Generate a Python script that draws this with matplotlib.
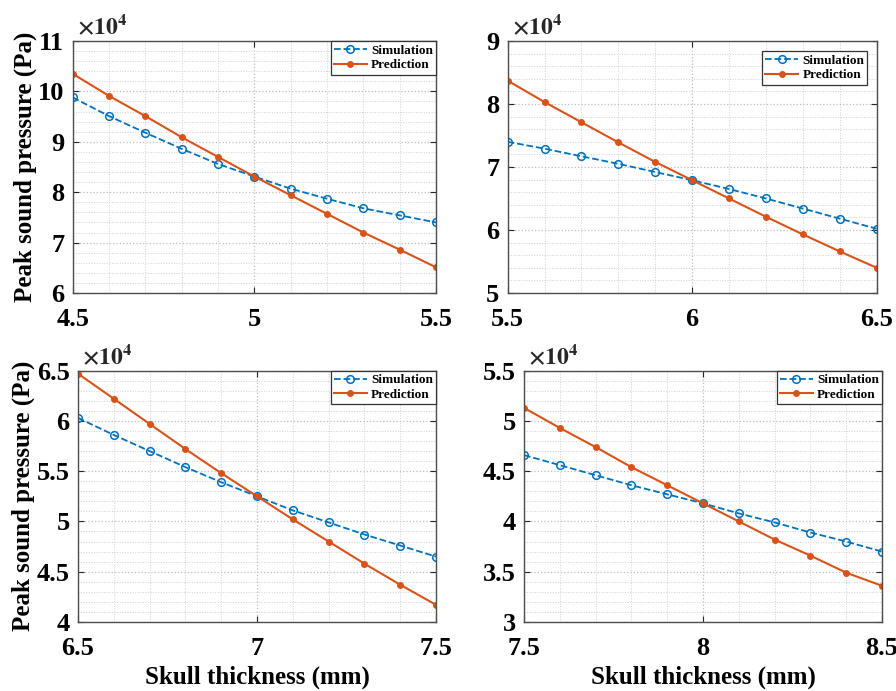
import matplotlib
matplotlib.use('Agg')
import matplotlib.pyplot as plt
from matplotlib.ticker import MultipleLocator, FuncFormatter
import numpy as np

plt.rcParams['font.family'] = 'Liberation Serif'
plt.rcParams['font.weight'] = 'bold'
plt.rcParams['mathtext.fontset'] = 'stix'

# skull thickness (mm) for each panel
x_a = [4.5, 4.6, 4.7, 4.8, 4.9, 5.0, 5.1, 5.2, 5.3, 5.4, 5.5]
x_b = [5.5, 5.6, 5.7, 5.8, 5.9, 6.0, 6.1, 6.2, 6.3, 6.4, 6.5]
x_c = [6.5, 6.6, 6.7, 6.8, 6.9, 7.0, 7.1, 7.2, 7.3, 7.4, 7.5]
x_d = [7.5, 7.6, 7.7, 7.8, 7.9, 8.0, 8.1, 8.2, 8.3, 8.4, 8.5]

# peak sound pressure, x10^4 Pa
sim_a = [9.88, 9.51, 9.18, 8.86, 8.56, 8.31, 8.07, 7.87, 7.68, 7.54, 7.40]
pred_a = [10.35, 9.91, 9.51, 9.09, 8.70, 8.31, 7.94, 7.57, 7.20, 6.86, 6.51]
sim_b = [7.40, 7.29, 7.17, 7.05, 6.92, 6.79, 6.65, 6.50, 6.34, 6.18, 6.02]
pred_b = [8.37, 8.03, 7.71, 7.39, 7.08, 6.79, 6.50, 6.21, 5.93, 5.66, 5.40]
sim_c = [6.03, 5.86, 5.70, 5.54, 5.39, 5.25, 5.11, 4.99, 4.87, 4.76, 4.65]
pred_c = [6.47, 6.22, 5.97, 5.72, 5.48, 5.25, 5.02, 4.80, 4.58, 4.37, 4.17]
sim_d = [4.66, 4.56, 4.46, 4.36, 4.27, 4.18, 4.08, 3.99, 3.89, 3.80, 3.70]
pred_d = [5.13, 4.93, 4.74, 4.54, 4.36, 4.18, 4.00, 3.82, 3.66, 3.49, 3.36]

blue = '#0072BD'
orange = '#D95319'

fig = plt.figure(figsize=(8.96, 6.91), dpi=100)

panels = [
    # data, axes rect, ylim, y major, y minor, legend anchor
    (x_a, sim_a, pred_a, [0.0811, 0.5760, 0.4055, 0.3647], (6, 11), 1, 0.2, (1.0, 1.0)),
    (x_b, sim_b, pred_b, [0.5666, 0.5760, 0.4118, 0.3647], (5, 9), 1, 0.2, (0.975, 0.96)),
    (x_c, sim_c, pred_c, [0.0871, 0.0999, 0.3996, 0.3637], (4, 6.5), 0.5, 0.1, (1.0, 1.0)),
    (x_d, sim_d, pred_d, [0.5848, 0.0999, 0.3996, 0.3637], (3, 5.5), 0.5, 0.1, (1.0, 1.0)),
]

fmt = FuncFormatter(lambda v, p: '%g' % round(v, 3))

for i, (x, sim, pred, rect, ylim, ymaj, ymin, loc) in enumerate(panels):
    ax = fig.add_axes(rect)
    ax.plot(x, sim, '--o', color=blue, lw=1.3, ms=5.5, mfc='none', mew=1.1, label='Simulation')
    ax.plot(x, pred, '-o', color=orange, lw=1.5, ms=4, mfc=orange, label='Prediction')
    ax.set_xlim(x[0], x[-1])
    ax.set_ylim(*ylim)
    ax.xaxis.set_major_locator(MultipleLocator(0.5))
    ax.xaxis.set_minor_locator(MultipleLocator(0.1))
    ax.yaxis.set_major_locator(MultipleLocator(ymaj))
    ax.yaxis.set_minor_locator(MultipleLocator(ymin))
    ax.xaxis.set_major_formatter(fmt)
    ax.yaxis.set_major_formatter(fmt)
    ax.grid(which='major', color='#bdbdbd', ls=':', lw=0.9)
    ax.grid(which='minor', color='#d0d0d0', ls=':', lw=0.7)
    ax.tick_params(which='major', direction='in', top=True, right=True, length=4,
                   labelsize=19, color='#262626')
    ax.tick_params(axis='x', which='major', pad=11)
    ax.tick_params(axis='y', which='major', pad=6)
    ax.tick_params(which='minor', length=0)
    for s in ax.spines.values():
        s.set_color('#4d4d4d')
        s.set_linewidth(1.0)
    for lab in ax.get_xticklabels() + ax.get_yticklabels():
        lab.set_fontweight('bold')
    ax.text(0.012, 1.005, r'$\times10^4$', transform=ax.transAxes, fontsize=17,
            ha='left', va='bottom', color='#262626')
    leg = ax.legend(loc='upper right', bbox_to_anchor=loc, fancybox=False,
                    prop={'weight': 'bold', 'size': 9.5}, handlelength=2.5,
                    borderaxespad=0, borderpad=0.25, labelspacing=0.2,
                    handletextpad=0.3, framealpha=1)
    leg.get_frame().set_edgecolor('#333333')
    leg.get_frame().set_linewidth(0.9)
    if i % 2 == 0:
        ax.set_ylabel('Peak sound pressure (Pa)', fontsize=18, fontweight='bold', labelpad=1)
    if i >= 2:
        ax.set_xlabel('Skull thickness (mm)', fontsize=18, fontweight='bold', labelpad=4)

fig.savefig('out.png', dpi=100)
